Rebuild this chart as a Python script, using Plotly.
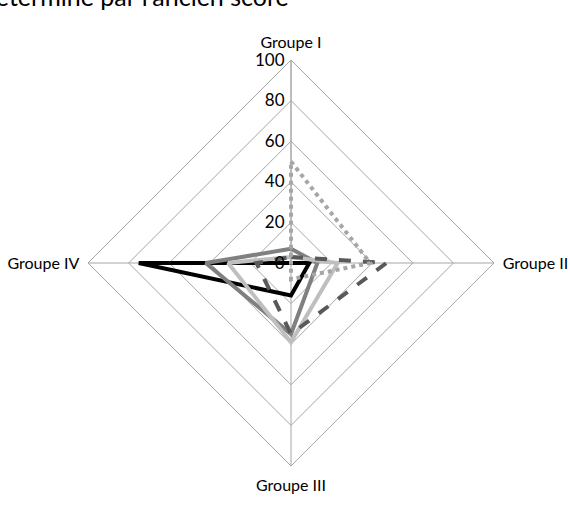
import plotly.graph_objects as go

# Axes of the radar and radial ticks
groupes = ["Groupe I", "Groupe II", "Groupe III", "Groupe IV"]
ticks = [0, 20, 40, 60, 80, 100]

# Scores per group for each series
serie_noire = [0, 9, 16, 75]
serie_grise = [7, 13, 35, 42]
serie_claire = [3, 23, 39, 31]
serie_tirets = [3, 47, 35, 17]
serie_points = [50, 39, 8, 0]

series = [
    (serie_noire, "#000000", "solid", 4),
    (serie_grise, "#808080", "solid", 4),
    (serie_claire, "#bfbfbf", "solid", 4),
    (serie_tirets, "#595959", "dash", 4),
    (serie_points, "#a6a6a6", "dot", 4),
]

fig = go.Figure()
for vals, col, dash, w in series:
    fig.add_trace(go.Scatterpolar(
        r=vals + vals[:1],
        theta=groupes + groupes[:1],
        mode="lines",
        line=dict(color=col, dash=dash, width=w),
        showlegend=False,
        hoverinfo="skip",
    ))

W, H = 570, 512
cx, cy, R = 291, 263, 203
fig.update_layout(
    width=W, height=H,
    margin=dict(l=0, r=0, t=0, b=0),
    paper_bgcolor="white",
    plot_bgcolor="white",
    font=dict(family="Lato, Open Sans, sans-serif", color="#000000"),
    polar=dict(
        domain=dict(x=[(cx - R) / W, (cx + R) / W],
                    y=[(H - cy - R) / H, (H - cy + R) / H]),
        gridshape="linear",
        bgcolor="white",
        angularaxis=dict(
            categoryorder="array", categoryarray=groupes,
            rotation=90, direction="clockwise",
            showline=True, linecolor="#a6a6a6", linewidth=1,
            gridcolor="#a6a6a6", gridwidth=1,
            ticks="outside", ticklen=5, tickcolor="rgba(0,0,0,0)",
            tickfont=dict(size=16, color="#000000"),
        ),
        radialaxis=dict(
            range=[0, 100], tickvals=ticks, ticktext=[str(t) for t in ticks],
            angle=90, tickangle=90, side="counterclockwise",
            showline=True, linecolor="#a6a6a6", linewidth=1,
            gridcolor="#a6a6a6", gridwidth=1,
            ticks="", tickfont=dict(size=17, color="#000000"),
        ),
    ),
    annotations=[dict(
        text="Déterminé par l'ancien score",
        xref="paper", yref="paper", x=291 / W, y=1 + 21 / H,
        xanchor="right", yanchor="top", showarrow=False,
        font=dict(size=25, color="#000000"),
    )],
)

fig.write_html("out.html")
